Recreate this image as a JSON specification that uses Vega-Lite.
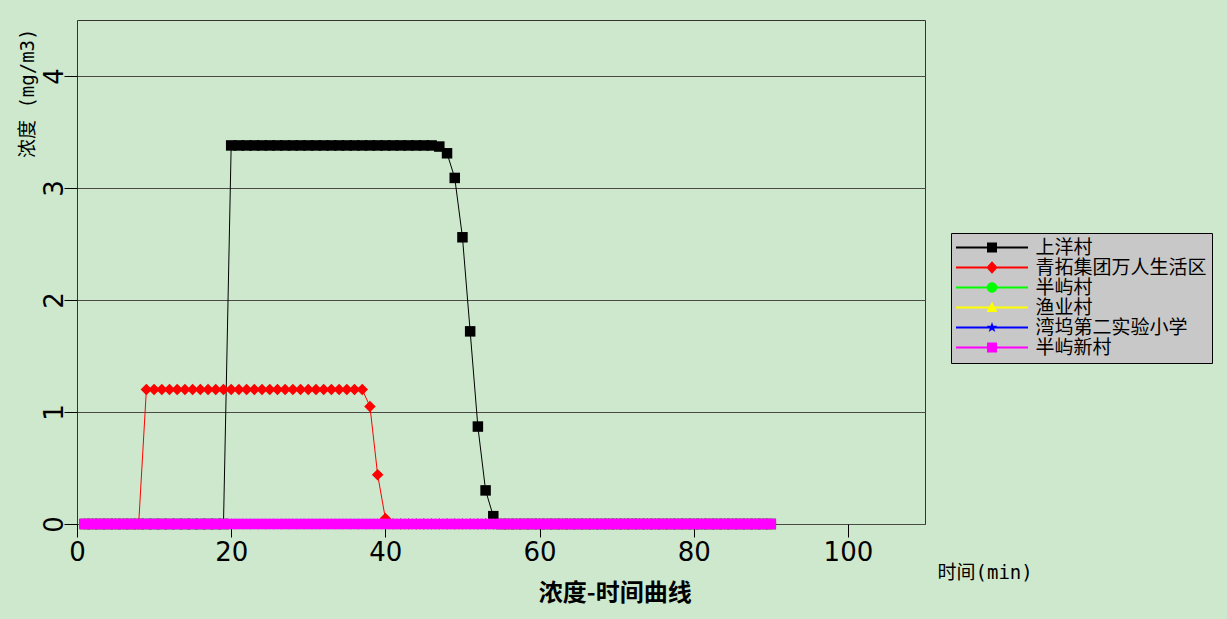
{
"$schema": "https://vega.github.io/schema/vega-lite/v6.json",
"autosize": {"type": "none"},
"width": 848,
"height": 504,
"padding": {"left": 77, "top": 20, "right": 302, "bottom": 95},
"background": "#cde8cd",
"config": {
  "view": {"fill": "#c8c8c8", "stroke": "#333333", "strokeWidth": 1},
  "font": "DejaVu Sans"
},
"title": {"text": "浓度-时间曲线", "orient": "bottom", "anchor": "middle", "frame": "bounds", "font": "Noto Sans CJK SC", "fontSize": 24, "fontWeight": "bold", "color": "#000000", "offset": 0},
"datasets": {
"conc": [
{"s":"上洋村","t":1,"c":0},{"s":"上洋村","t":2,"c":0},{"s":"上洋村","t":3,"c":0},{"s":"上洋村","t":4,"c":0},{"s":"上洋村","t":5,"c":0},{"s":"上洋村","t":6,"c":0},{"s":"上洋村","t":7,"c":0},{"s":"上洋村","t":8,"c":0},{"s":"上洋村","t":9,"c":0},{"s":"上洋村","t":10,"c":0},
{"s":"上洋村","t":11,"c":0},{"s":"上洋村","t":12,"c":0},{"s":"上洋村","t":13,"c":0},{"s":"上洋村","t":14,"c":0},{"s":"上洋村","t":15,"c":0},{"s":"上洋村","t":16,"c":0},{"s":"上洋村","t":17,"c":0},{"s":"上洋村","t":18,"c":0},{"s":"上洋村","t":19,"c":0},{"s":"上洋村","t":20,"c":3.38},
{"s":"上洋村","t":21,"c":3.38},{"s":"上洋村","t":22,"c":3.38},{"s":"上洋村","t":23,"c":3.38},{"s":"上洋村","t":24,"c":3.38},{"s":"上洋村","t":25,"c":3.38},{"s":"上洋村","t":26,"c":3.38},{"s":"上洋村","t":27,"c":3.38},{"s":"上洋村","t":28,"c":3.38},{"s":"上洋村","t":29,"c":3.38},{"s":"上洋村","t":30,"c":3.38},
{"s":"上洋村","t":31,"c":3.38},{"s":"上洋村","t":32,"c":3.38},{"s":"上洋村","t":33,"c":3.38},{"s":"上洋村","t":34,"c":3.38},{"s":"上洋村","t":35,"c":3.38},{"s":"上洋村","t":36,"c":3.38},{"s":"上洋村","t":37,"c":3.38},{"s":"上洋村","t":38,"c":3.38},{"s":"上洋村","t":39,"c":3.38},{"s":"上洋村","t":40,"c":3.38},
{"s":"上洋村","t":41,"c":3.38},{"s":"上洋村","t":42,"c":3.38},{"s":"上洋村","t":43,"c":3.38},{"s":"上洋村","t":44,"c":3.38},{"s":"上洋村","t":45,"c":3.38},{"s":"上洋村","t":46,"c":3.38},{"s":"上洋村","t":47,"c":3.37},{"s":"上洋村","t":48,"c":3.31},{"s":"上洋村","t":49,"c":3.09},{"s":"上洋村","t":50,"c":2.56},
{"s":"上洋村","t":51,"c":1.72},{"s":"上洋村","t":52,"c":0.87},{"s":"上洋村","t":53,"c":0.3},{"s":"上洋村","t":54,"c":0.07},{"s":"上洋村","t":55,"c":0},{"s":"上洋村","t":56,"c":0},{"s":"上洋村","t":57,"c":0},{"s":"上洋村","t":58,"c":0},{"s":"上洋村","t":59,"c":0},{"s":"上洋村","t":60,"c":0},
{"s":"上洋村","t":61,"c":0},{"s":"上洋村","t":62,"c":0},{"s":"上洋村","t":63,"c":0},{"s":"上洋村","t":64,"c":0},{"s":"上洋村","t":65,"c":0},{"s":"上洋村","t":66,"c":0},{"s":"上洋村","t":67,"c":0},{"s":"上洋村","t":68,"c":0},{"s":"上洋村","t":69,"c":0},{"s":"上洋村","t":70,"c":0},
{"s":"上洋村","t":71,"c":0},{"s":"上洋村","t":72,"c":0},{"s":"上洋村","t":73,"c":0},{"s":"上洋村","t":74,"c":0},{"s":"上洋村","t":75,"c":0},{"s":"上洋村","t":76,"c":0},{"s":"上洋村","t":77,"c":0},{"s":"上洋村","t":78,"c":0},{"s":"上洋村","t":79,"c":0},{"s":"上洋村","t":80,"c":0},
{"s":"上洋村","t":81,"c":0},{"s":"上洋村","t":82,"c":0},{"s":"上洋村","t":83,"c":0},{"s":"上洋村","t":84,"c":0},{"s":"上洋村","t":85,"c":0},{"s":"上洋村","t":86,"c":0},{"s":"上洋村","t":87,"c":0},{"s":"上洋村","t":88,"c":0},{"s":"上洋村","t":89,"c":0},{"s":"上洋村","t":90,"c":0},
{"s":"青拓集团万人生活区","t":1,"c":0},{"s":"青拓集团万人生活区","t":2,"c":0},{"s":"青拓集团万人生活区","t":3,"c":0},{"s":"青拓集团万人生活区","t":4,"c":0},{"s":"青拓集团万人生活区","t":5,"c":0},{"s":"青拓集团万人生活区","t":6,"c":0},{"s":"青拓集团万人生活区","t":7,"c":0},{"s":"青拓集团万人生活区","t":8,"c":0},{"s":"青拓集团万人生活区","t":9,"c":1.2},{"s":"青拓集团万人生活区","t":10,"c":1.2},
{"s":"青拓集团万人生活区","t":11,"c":1.2},{"s":"青拓集团万人生活区","t":12,"c":1.2},{"s":"青拓集团万人生活区","t":13,"c":1.2},{"s":"青拓集团万人生活区","t":14,"c":1.2},{"s":"青拓集团万人生活区","t":15,"c":1.2},{"s":"青拓集团万人生活区","t":16,"c":1.2},{"s":"青拓集团万人生活区","t":17,"c":1.2},{"s":"青拓集团万人生活区","t":18,"c":1.2},{"s":"青拓集团万人生活区","t":19,"c":1.2},{"s":"青拓集团万人生活区","t":20,"c":1.2},
{"s":"青拓集团万人生活区","t":21,"c":1.2},{"s":"青拓集团万人生活区","t":22,"c":1.2},{"s":"青拓集团万人生活区","t":23,"c":1.2},{"s":"青拓集团万人生活区","t":24,"c":1.2},{"s":"青拓集团万人生活区","t":25,"c":1.2},{"s":"青拓集团万人生活区","t":26,"c":1.2},{"s":"青拓集团万人生活区","t":27,"c":1.2},{"s":"青拓集团万人生活区","t":28,"c":1.2},{"s":"青拓集团万人生活区","t":29,"c":1.2},{"s":"青拓集团万人生活区","t":30,"c":1.2},
{"s":"青拓集团万人生活区","t":31,"c":1.2},{"s":"青拓集团万人生活区","t":32,"c":1.2},{"s":"青拓集团万人生活区","t":33,"c":1.2},{"s":"青拓集团万人生活区","t":34,"c":1.2},{"s":"青拓集团万人生活区","t":35,"c":1.2},{"s":"青拓集团万人生活区","t":36,"c":1.2},{"s":"青拓集团万人生活区","t":37,"c":1.2},{"s":"青拓集团万人生活区","t":38,"c":1.05},{"s":"青拓集团万人生活区","t":39,"c":0.44},{"s":"青拓集团万人生活区","t":40,"c":0.05},
{"s":"青拓集团万人生活区","t":41,"c":0},{"s":"青拓集团万人生活区","t":42,"c":0},{"s":"青拓集团万人生活区","t":43,"c":0},{"s":"青拓集团万人生活区","t":44,"c":0},{"s":"青拓集团万人生活区","t":45,"c":0},{"s":"青拓集团万人生活区","t":46,"c":0},{"s":"青拓集团万人生活区","t":47,"c":0},{"s":"青拓集团万人生活区","t":48,"c":0},{"s":"青拓集团万人生活区","t":49,"c":0},{"s":"青拓集团万人生活区","t":50,"c":0},
{"s":"青拓集团万人生活区","t":51,"c":0},{"s":"青拓集团万人生活区","t":52,"c":0},{"s":"青拓集团万人生活区","t":53,"c":0},{"s":"青拓集团万人生活区","t":54,"c":0},{"s":"青拓集团万人生活区","t":55,"c":0},{"s":"青拓集团万人生活区","t":56,"c":0},{"s":"青拓集团万人生活区","t":57,"c":0},{"s":"青拓集团万人生活区","t":58,"c":0},{"s":"青拓集团万人生活区","t":59,"c":0},{"s":"青拓集团万人生活区","t":60,"c":0},
{"s":"青拓集团万人生活区","t":61,"c":0},{"s":"青拓集团万人生活区","t":62,"c":0},{"s":"青拓集团万人生活区","t":63,"c":0},{"s":"青拓集团万人生活区","t":64,"c":0},{"s":"青拓集团万人生活区","t":65,"c":0},{"s":"青拓集团万人生活区","t":66,"c":0},{"s":"青拓集团万人生活区","t":67,"c":0},{"s":"青拓集团万人生活区","t":68,"c":0},{"s":"青拓集团万人生活区","t":69,"c":0},{"s":"青拓集团万人生活区","t":70,"c":0},
{"s":"青拓集团万人生活区","t":71,"c":0},{"s":"青拓集团万人生活区","t":72,"c":0},{"s":"青拓集团万人生活区","t":73,"c":0},{"s":"青拓集团万人生活区","t":74,"c":0},{"s":"青拓集团万人生活区","t":75,"c":0},{"s":"青拓集团万人生活区","t":76,"c":0},{"s":"青拓集团万人生活区","t":77,"c":0},{"s":"青拓集团万人生活区","t":78,"c":0},{"s":"青拓集团万人生活区","t":79,"c":0},{"s":"青拓集团万人生活区","t":80,"c":0},
{"s":"青拓集团万人生活区","t":81,"c":0},{"s":"青拓集团万人生活区","t":82,"c":0},{"s":"青拓集团万人生活区","t":83,"c":0},{"s":"青拓集团万人生活区","t":84,"c":0},{"s":"青拓集团万人生活区","t":85,"c":0},{"s":"青拓集团万人生活区","t":86,"c":0},{"s":"青拓集团万人生活区","t":87,"c":0},{"s":"青拓集团万人生活区","t":88,"c":0},{"s":"青拓集团万人生活区","t":89,"c":0},{"s":"青拓集团万人生活区","t":90,"c":0},
{"s":"半屿村","t":1,"c":0},{"s":"半屿村","t":2,"c":0},{"s":"半屿村","t":3,"c":0},{"s":"半屿村","t":4,"c":0},{"s":"半屿村","t":5,"c":0},{"s":"半屿村","t":6,"c":0},{"s":"半屿村","t":7,"c":0},{"s":"半屿村","t":8,"c":0},{"s":"半屿村","t":9,"c":0},{"s":"半屿村","t":10,"c":0},
{"s":"半屿村","t":11,"c":0},{"s":"半屿村","t":12,"c":0},{"s":"半屿村","t":13,"c":0},{"s":"半屿村","t":14,"c":0},{"s":"半屿村","t":15,"c":0},{"s":"半屿村","t":16,"c":0},{"s":"半屿村","t":17,"c":0},{"s":"半屿村","t":18,"c":0},{"s":"半屿村","t":19,"c":0},{"s":"半屿村","t":20,"c":0},
{"s":"半屿村","t":21,"c":0},{"s":"半屿村","t":22,"c":0},{"s":"半屿村","t":23,"c":0},{"s":"半屿村","t":24,"c":0},{"s":"半屿村","t":25,"c":0},{"s":"半屿村","t":26,"c":0},{"s":"半屿村","t":27,"c":0},{"s":"半屿村","t":28,"c":0},{"s":"半屿村","t":29,"c":0},{"s":"半屿村","t":30,"c":0},
{"s":"半屿村","t":31,"c":0},{"s":"半屿村","t":32,"c":0},{"s":"半屿村","t":33,"c":0},{"s":"半屿村","t":34,"c":0},{"s":"半屿村","t":35,"c":0},{"s":"半屿村","t":36,"c":0},{"s":"半屿村","t":37,"c":0},{"s":"半屿村","t":38,"c":0},{"s":"半屿村","t":39,"c":0},{"s":"半屿村","t":40,"c":0},
{"s":"半屿村","t":41,"c":0},{"s":"半屿村","t":42,"c":0},{"s":"半屿村","t":43,"c":0},{"s":"半屿村","t":44,"c":0},{"s":"半屿村","t":45,"c":0},{"s":"半屿村","t":46,"c":0},{"s":"半屿村","t":47,"c":0},{"s":"半屿村","t":48,"c":0},{"s":"半屿村","t":49,"c":0},{"s":"半屿村","t":50,"c":0},
{"s":"半屿村","t":51,"c":0},{"s":"半屿村","t":52,"c":0},{"s":"半屿村","t":53,"c":0},{"s":"半屿村","t":54,"c":0},{"s":"半屿村","t":55,"c":0},{"s":"半屿村","t":56,"c":0},{"s":"半屿村","t":57,"c":0},{"s":"半屿村","t":58,"c":0},{"s":"半屿村","t":59,"c":0},{"s":"半屿村","t":60,"c":0},
{"s":"半屿村","t":61,"c":0},{"s":"半屿村","t":62,"c":0},{"s":"半屿村","t":63,"c":0},{"s":"半屿村","t":64,"c":0},{"s":"半屿村","t":65,"c":0},{"s":"半屿村","t":66,"c":0},{"s":"半屿村","t":67,"c":0},{"s":"半屿村","t":68,"c":0},{"s":"半屿村","t":69,"c":0},{"s":"半屿村","t":70,"c":0},
{"s":"半屿村","t":71,"c":0},{"s":"半屿村","t":72,"c":0},{"s":"半屿村","t":73,"c":0},{"s":"半屿村","t":74,"c":0},{"s":"半屿村","t":75,"c":0},{"s":"半屿村","t":76,"c":0},{"s":"半屿村","t":77,"c":0},{"s":"半屿村","t":78,"c":0},{"s":"半屿村","t":79,"c":0},{"s":"半屿村","t":80,"c":0},
{"s":"半屿村","t":81,"c":0},{"s":"半屿村","t":82,"c":0},{"s":"半屿村","t":83,"c":0},{"s":"半屿村","t":84,"c":0},{"s":"半屿村","t":85,"c":0},{"s":"半屿村","t":86,"c":0},{"s":"半屿村","t":87,"c":0},{"s":"半屿村","t":88,"c":0},{"s":"半屿村","t":89,"c":0},{"s":"半屿村","t":90,"c":0},
{"s":"渔业村","t":1,"c":0},{"s":"渔业村","t":2,"c":0},{"s":"渔业村","t":3,"c":0},{"s":"渔业村","t":4,"c":0},{"s":"渔业村","t":5,"c":0},{"s":"渔业村","t":6,"c":0},{"s":"渔业村","t":7,"c":0},{"s":"渔业村","t":8,"c":0},{"s":"渔业村","t":9,"c":0},{"s":"渔业村","t":10,"c":0},
{"s":"渔业村","t":11,"c":0},{"s":"渔业村","t":12,"c":0},{"s":"渔业村","t":13,"c":0},{"s":"渔业村","t":14,"c":0},{"s":"渔业村","t":15,"c":0},{"s":"渔业村","t":16,"c":0},{"s":"渔业村","t":17,"c":0},{"s":"渔业村","t":18,"c":0},{"s":"渔业村","t":19,"c":0},{"s":"渔业村","t":20,"c":0},
{"s":"渔业村","t":21,"c":0},{"s":"渔业村","t":22,"c":0},{"s":"渔业村","t":23,"c":0},{"s":"渔业村","t":24,"c":0},{"s":"渔业村","t":25,"c":0},{"s":"渔业村","t":26,"c":0},{"s":"渔业村","t":27,"c":0},{"s":"渔业村","t":28,"c":0},{"s":"渔业村","t":29,"c":0},{"s":"渔业村","t":30,"c":0},
{"s":"渔业村","t":31,"c":0},{"s":"渔业村","t":32,"c":0},{"s":"渔业村","t":33,"c":0},{"s":"渔业村","t":34,"c":0},{"s":"渔业村","t":35,"c":0},{"s":"渔业村","t":36,"c":0},{"s":"渔业村","t":37,"c":0},{"s":"渔业村","t":38,"c":0},{"s":"渔业村","t":39,"c":0},{"s":"渔业村","t":40,"c":0},
{"s":"渔业村","t":41,"c":0},{"s":"渔业村","t":42,"c":0},{"s":"渔业村","t":43,"c":0},{"s":"渔业村","t":44,"c":0},{"s":"渔业村","t":45,"c":0},{"s":"渔业村","t":46,"c":0},{"s":"渔业村","t":47,"c":0},{"s":"渔业村","t":48,"c":0},{"s":"渔业村","t":49,"c":0},{"s":"渔业村","t":50,"c":0},
{"s":"渔业村","t":51,"c":0},{"s":"渔业村","t":52,"c":0},{"s":"渔业村","t":53,"c":0},{"s":"渔业村","t":54,"c":0},{"s":"渔业村","t":55,"c":0},{"s":"渔业村","t":56,"c":0},{"s":"渔业村","t":57,"c":0},{"s":"渔业村","t":58,"c":0},{"s":"渔业村","t":59,"c":0},{"s":"渔业村","t":60,"c":0},
{"s":"渔业村","t":61,"c":0},{"s":"渔业村","t":62,"c":0},{"s":"渔业村","t":63,"c":0},{"s":"渔业村","t":64,"c":0},{"s":"渔业村","t":65,"c":0},{"s":"渔业村","t":66,"c":0},{"s":"渔业村","t":67,"c":0},{"s":"渔业村","t":68,"c":0},{"s":"渔业村","t":69,"c":0},{"s":"渔业村","t":70,"c":0},
{"s":"渔业村","t":71,"c":0},{"s":"渔业村","t":72,"c":0},{"s":"渔业村","t":73,"c":0},{"s":"渔业村","t":74,"c":0},{"s":"渔业村","t":75,"c":0},{"s":"渔业村","t":76,"c":0},{"s":"渔业村","t":77,"c":0},{"s":"渔业村","t":78,"c":0},{"s":"渔业村","t":79,"c":0},{"s":"渔业村","t":80,"c":0},
{"s":"渔业村","t":81,"c":0},{"s":"渔业村","t":82,"c":0},{"s":"渔业村","t":83,"c":0},{"s":"渔业村","t":84,"c":0},{"s":"渔业村","t":85,"c":0},{"s":"渔业村","t":86,"c":0},{"s":"渔业村","t":87,"c":0},{"s":"渔业村","t":88,"c":0},{"s":"渔业村","t":89,"c":0},{"s":"渔业村","t":90,"c":0},
{"s":"湾坞第二实验小学","t":1,"c":0},{"s":"湾坞第二实验小学","t":2,"c":0},{"s":"湾坞第二实验小学","t":3,"c":0},{"s":"湾坞第二实验小学","t":4,"c":0},{"s":"湾坞第二实验小学","t":5,"c":0},{"s":"湾坞第二实验小学","t":6,"c":0},{"s":"湾坞第二实验小学","t":7,"c":0},{"s":"湾坞第二实验小学","t":8,"c":0},{"s":"湾坞第二实验小学","t":9,"c":0},{"s":"湾坞第二实验小学","t":10,"c":0},
{"s":"湾坞第二实验小学","t":11,"c":0},{"s":"湾坞第二实验小学","t":12,"c":0},{"s":"湾坞第二实验小学","t":13,"c":0},{"s":"湾坞第二实验小学","t":14,"c":0},{"s":"湾坞第二实验小学","t":15,"c":0},{"s":"湾坞第二实验小学","t":16,"c":0},{"s":"湾坞第二实验小学","t":17,"c":0},{"s":"湾坞第二实验小学","t":18,"c":0},{"s":"湾坞第二实验小学","t":19,"c":0},{"s":"湾坞第二实验小学","t":20,"c":0},
{"s":"湾坞第二实验小学","t":21,"c":0},{"s":"湾坞第二实验小学","t":22,"c":0},{"s":"湾坞第二实验小学","t":23,"c":0},{"s":"湾坞第二实验小学","t":24,"c":0},{"s":"湾坞第二实验小学","t":25,"c":0},{"s":"湾坞第二实验小学","t":26,"c":0},{"s":"湾坞第二实验小学","t":27,"c":0},{"s":"湾坞第二实验小学","t":28,"c":0},{"s":"湾坞第二实验小学","t":29,"c":0},{"s":"湾坞第二实验小学","t":30,"c":0},
{"s":"湾坞第二实验小学","t":31,"c":0},{"s":"湾坞第二实验小学","t":32,"c":0},{"s":"湾坞第二实验小学","t":33,"c":0},{"s":"湾坞第二实验小学","t":34,"c":0},{"s":"湾坞第二实验小学","t":35,"c":0},{"s":"湾坞第二实验小学","t":36,"c":0},{"s":"湾坞第二实验小学","t":37,"c":0},{"s":"湾坞第二实验小学","t":38,"c":0},{"s":"湾坞第二实验小学","t":39,"c":0},{"s":"湾坞第二实验小学","t":40,"c":0},
{"s":"湾坞第二实验小学","t":41,"c":0},{"s":"湾坞第二实验小学","t":42,"c":0},{"s":"湾坞第二实验小学","t":43,"c":0},{"s":"湾坞第二实验小学","t":44,"c":0},{"s":"湾坞第二实验小学","t":45,"c":0},{"s":"湾坞第二实验小学","t":46,"c":0},{"s":"湾坞第二实验小学","t":47,"c":0},{"s":"湾坞第二实验小学","t":48,"c":0},{"s":"湾坞第二实验小学","t":49,"c":0},{"s":"湾坞第二实验小学","t":50,"c":0},
{"s":"湾坞第二实验小学","t":51,"c":0},{"s":"湾坞第二实验小学","t":52,"c":0},{"s":"湾坞第二实验小学","t":53,"c":0},{"s":"湾坞第二实验小学","t":54,"c":0},{"s":"湾坞第二实验小学","t":55,"c":0},{"s":"湾坞第二实验小学","t":56,"c":0},{"s":"湾坞第二实验小学","t":57,"c":0},{"s":"湾坞第二实验小学","t":58,"c":0},{"s":"湾坞第二实验小学","t":59,"c":0},{"s":"湾坞第二实验小学","t":60,"c":0},
{"s":"湾坞第二实验小学","t":61,"c":0},{"s":"湾坞第二实验小学","t":62,"c":0},{"s":"湾坞第二实验小学","t":63,"c":0},{"s":"湾坞第二实验小学","t":64,"c":0},{"s":"湾坞第二实验小学","t":65,"c":0},{"s":"湾坞第二实验小学","t":66,"c":0},{"s":"湾坞第二实验小学","t":67,"c":0},{"s":"湾坞第二实验小学","t":68,"c":0},{"s":"湾坞第二实验小学","t":69,"c":0},{"s":"湾坞第二实验小学","t":70,"c":0},
{"s":"湾坞第二实验小学","t":71,"c":0},{"s":"湾坞第二实验小学","t":72,"c":0},{"s":"湾坞第二实验小学","t":73,"c":0},{"s":"湾坞第二实验小学","t":74,"c":0},{"s":"湾坞第二实验小学","t":75,"c":0},{"s":"湾坞第二实验小学","t":76,"c":0},{"s":"湾坞第二实验小学","t":77,"c":0},{"s":"湾坞第二实验小学","t":78,"c":0},{"s":"湾坞第二实验小学","t":79,"c":0},{"s":"湾坞第二实验小学","t":80,"c":0},
{"s":"湾坞第二实验小学","t":81,"c":0},{"s":"湾坞第二实验小学","t":82,"c":0},{"s":"湾坞第二实验小学","t":83,"c":0},{"s":"湾坞第二实验小学","t":84,"c":0},{"s":"湾坞第二实验小学","t":85,"c":0},{"s":"湾坞第二实验小学","t":86,"c":0},{"s":"湾坞第二实验小学","t":87,"c":0},{"s":"湾坞第二实验小学","t":88,"c":0},{"s":"湾坞第二实验小学","t":89,"c":0},{"s":"湾坞第二实验小学","t":90,"c":0},
{"s":"半屿新村","t":1,"c":0},{"s":"半屿新村","t":2,"c":0},{"s":"半屿新村","t":3,"c":0},{"s":"半屿新村","t":4,"c":0},{"s":"半屿新村","t":5,"c":0},{"s":"半屿新村","t":6,"c":0},{"s":"半屿新村","t":7,"c":0},{"s":"半屿新村","t":8,"c":0},{"s":"半屿新村","t":9,"c":0},{"s":"半屿新村","t":10,"c":0},
{"s":"半屿新村","t":11,"c":0},{"s":"半屿新村","t":12,"c":0},{"s":"半屿新村","t":13,"c":0},{"s":"半屿新村","t":14,"c":0},{"s":"半屿新村","t":15,"c":0},{"s":"半屿新村","t":16,"c":0},{"s":"半屿新村","t":17,"c":0},{"s":"半屿新村","t":18,"c":0},{"s":"半屿新村","t":19,"c":0},{"s":"半屿新村","t":20,"c":0},
{"s":"半屿新村","t":21,"c":0},{"s":"半屿新村","t":22,"c":0},{"s":"半屿新村","t":23,"c":0},{"s":"半屿新村","t":24,"c":0},{"s":"半屿新村","t":25,"c":0},{"s":"半屿新村","t":26,"c":0},{"s":"半屿新村","t":27,"c":0},{"s":"半屿新村","t":28,"c":0},{"s":"半屿新村","t":29,"c":0},{"s":"半屿新村","t":30,"c":0},
{"s":"半屿新村","t":31,"c":0},{"s":"半屿新村","t":32,"c":0},{"s":"半屿新村","t":33,"c":0},{"s":"半屿新村","t":34,"c":0},{"s":"半屿新村","t":35,"c":0},{"s":"半屿新村","t":36,"c":0},{"s":"半屿新村","t":37,"c":0},{"s":"半屿新村","t":38,"c":0},{"s":"半屿新村","t":39,"c":0},{"s":"半屿新村","t":40,"c":0},
{"s":"半屿新村","t":41,"c":0},{"s":"半屿新村","t":42,"c":0},{"s":"半屿新村","t":43,"c":0},{"s":"半屿新村","t":44,"c":0},{"s":"半屿新村","t":45,"c":0},{"s":"半屿新村","t":46,"c":0},{"s":"半屿新村","t":47,"c":0},{"s":"半屿新村","t":48,"c":0},{"s":"半屿新村","t":49,"c":0},{"s":"半屿新村","t":50,"c":0},
{"s":"半屿新村","t":51,"c":0},{"s":"半屿新村","t":52,"c":0},{"s":"半屿新村","t":53,"c":0},{"s":"半屿新村","t":54,"c":0},{"s":"半屿新村","t":55,"c":0},{"s":"半屿新村","t":56,"c":0},{"s":"半屿新村","t":57,"c":0},{"s":"半屿新村","t":58,"c":0},{"s":"半屿新村","t":59,"c":0},{"s":"半屿新村","t":60,"c":0},
{"s":"半屿新村","t":61,"c":0},{"s":"半屿新村","t":62,"c":0},{"s":"半屿新村","t":63,"c":0},{"s":"半屿新村","t":64,"c":0},{"s":"半屿新村","t":65,"c":0},{"s":"半屿新村","t":66,"c":0},{"s":"半屿新村","t":67,"c":0},{"s":"半屿新村","t":68,"c":0},{"s":"半屿新村","t":69,"c":0},{"s":"半屿新村","t":70,"c":0},
{"s":"半屿新村","t":71,"c":0},{"s":"半屿新村","t":72,"c":0},{"s":"半屿新村","t":73,"c":0},{"s":"半屿新村","t":74,"c":0},{"s":"半屿新村","t":75,"c":0},{"s":"半屿新村","t":76,"c":0},{"s":"半屿新村","t":77,"c":0},{"s":"半屿新村","t":78,"c":0},{"s":"半屿新村","t":79,"c":0},{"s":"半屿新村","t":80,"c":0},
{"s":"半屿新村","t":81,"c":0},{"s":"半屿新村","t":82,"c":0},{"s":"半屿新村","t":83,"c":0},{"s":"半屿新村","t":84,"c":0},{"s":"半屿新村","t":85,"c":0},{"s":"半屿新村","t":86,"c":0},{"s":"半屿新村","t":87,"c":0},{"s":"半屿新村","t":88,"c":0},{"s":"半屿新村","t":89,"c":0},{"s":"半屿新村","t":90,"c":0}
]
},
"data": {"name": "conc"},
"layer": [
  {
    "mark": {"type": "line", "strokeWidth": 1},
    "encoding": {
      "x": {"field": "t", "type": "quantitative", "scale": {"domain": [0, 110], "nice": false, "zero": false},
        "axis": {"values": [0, 20, 40, 60, 80, 100], "format": "d", "grid": false, "domain": false, "tickSize": 13, "tickColor": "#000000", "tickWidth": 1,
          "labelFont": "DejaVu Sans", "labelFontSize": 26, "labelColor": "#000000", "labelPadding": 2, "labelFlush": false,
          "title": "时间(min)", "titleFont": "DejaVu Sans Mono, Noto Sans CJK SC", "titleFontSize": 19, "titleFontWeight": "normal", "titleColor": "#000000",
          "titleX": 860, "titleY": 48, "titleAlign": "left", "titleBaseline": "middle", "titleAngle": 0}},
      "y": {"field": "c", "type": "quantitative", "scale": {"domain": [0, 4.5], "nice": false},
        "axis": {"values": [0, 1, 2, 3, 4], "format": "d", "grid": true, "gridColor": "#4a4a4a", "gridWidth": 1, "domain": false, "tickSize": 13, "tickColor": "#000000", "tickWidth": 1,
          "labelFont": "DejaVu Sans", "labelFontSize": 26, "labelColor": "#000000", "labelPadding": 2, "labelAngle": 270, "labelAlign": "center", "labelBaseline": "alphabetic", "labelFlush": false,
          "title": "浓度 (mg/m3)", "titleFont": "DejaVu Sans Mono, Noto Sans CJK SC", "titleFontSize": 19, "titleFontWeight": "normal", "titleColor": "#000000",
          "titleAngle": 270, "titleX": -50, "titleY": 8, "titleAlign": "right", "titleBaseline": "middle"}},
      "color": {"field": "s", "type": "nominal",
        "scale": {"domain": ["上洋村", "青拓集团万人生活区", "半屿村", "渔业村", "湾坞第二实验小学", "半屿新村"], "range": ["#000000", "#ff0000", "#00ff00", "#ffff00", "#0000ff", "#ff00ff"]},
        "legend": null}
    }
  },
  {
    "mark": {"type": "point", "filled": true, "opacity": 1, "size": 110, "strokeWidth": 0},
    "encoding": {
      "x": {"field": "t", "type": "quantitative"},
      "y": {"field": "c", "type": "quantitative"},
      "color": {"field": "s", "type": "nominal",
        "scale": {"domain": ["上洋村", "青拓集团万人生活区", "半屿村", "渔业村", "湾坞第二实验小学", "半屿新村"], "range": ["#000000", "#ff0000", "#00ff00", "#ffff00", "#0000ff", "#ff00ff"]},
        "legend": null},
      "shape": {"field": "s", "type": "nominal",
        "scale": {"domain": ["上洋村", "青拓集团万人生活区", "半屿村", "渔业村", "湾坞第二实验小学", "半屿新村"],
          "range": ["square", "M0,-1.1L1.1,0L0,1.1L-1.1,0Z", "circle", "triangle-up", "M0,-1.1L0.26,-0.36L1.05,-0.34L0.43,0.14L0.65,0.89L0,0.45L-0.65,0.89L-0.43,0.14L-1.05,-0.34L-0.26,-0.36Z", "square"]},
        "legend": null}
    }
  },
  {
    "transform": [{"filter": "datum.t < 0"}],
    "mark": {"type": "point", "filled": true, "opacity": 1, "size": 100, "strokeWidth": 0},
    "encoding": {
      "color": {"field": "s", "type": "nominal",
        "scale": {"domain": ["上洋村", "青拓集团万人生活区", "半屿村", "渔业村", "湾坞第二实验小学", "半屿新村"], "range": ["#000000", "#ff0000", "#00ff00", "#ffff00", "#0000ff", "#ff00ff"]},
        "legend": {"orient": "none", "legendX": 874, "legendY": 213, "title": null, "fillColor": "#c8c8c8", "strokeColor": "#000000", "padding": 5,
          "symbolSize": 100, "symbolOffset": 26.5, "symbolStrokeWidth": 0, "labelOffset": 34, "labelFont": "Noto Sans CJK SC", "labelFontSize": 19, "labelColor": "#000000", "labelLimit": 400, "rowPadding": -1.2}},
      "shape": {"field": "s", "type": "nominal",
        "scale": {"domain": ["上洋村", "青拓集团万人生活区", "半屿村", "渔业村", "湾坞第二实验小学", "半屿新村"],
          "range": [
            "M-7.2,-0.18H7.2V0.18H-7.2Z M-1,-1H1V1H-1Z",
            "M-7.2,-0.18H7.2V0.18H-7.2Z M0,-1.25L1.15,0L0,1.25L-1.15,0Z",
            "M-7.2,-0.18H7.2V0.18H-7.2Z M1.05,0A1.05,1.05 0 1,1 -1.05,0A1.05,1.05 0 1,1 1.05,0Z",
            "M-7.2,-0.18H7.2V0.18H-7.2Z M0,-1.15L1.1,0.9H-1.1Z",
            "M-7.2,-0.18H7.2V0.18H-7.2Z M0,-1.1L0.26,-0.36L1.05,-0.34L0.43,0.14L0.65,0.89L0,0.45L-0.65,0.89L-0.43,0.14L-1.05,-0.34L-0.26,-0.36Z",
            "M-7.2,-0.18H7.2V0.18H-7.2Z M-1,-1H1V1H-1Z"]},
        "legend": {"orient": "none", "legendX": 874, "legendY": 213, "title": null, "fillColor": "#c8c8c8", "strokeColor": "#000000", "padding": 5,
          "symbolSize": 100, "symbolOffset": 26.5, "symbolStrokeWidth": 0, "labelOffset": 34, "labelFont": "Noto Sans CJK SC", "labelFontSize": 19, "labelColor": "#000000", "labelLimit": 400, "rowPadding": -1.2}}
    }
  }
],
"resolve": {"scale": {"color": "independent", "shape": "independent"}}
}
